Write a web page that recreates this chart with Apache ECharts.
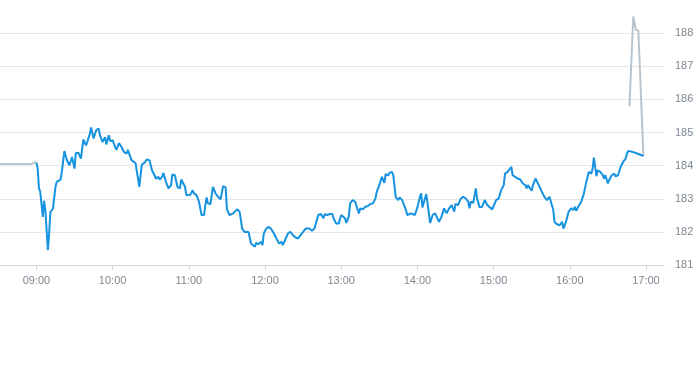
<!DOCTYPE html>
<html>
<head>
<meta charset="utf-8">
<script src="https://cdn.jsdelivr.net/npm/echarts@6/dist/echarts.min.js"></script>
<style>html,body{margin:0;padding:0;background:#fff}#c{width:693px;height:365px}</style>
</head>
<body>
<div id="c"></div>
<script>
// minutes since midnight
const preTimes = [510, 520, 530, 536, 537, 539, 540];
const preValues = [184.05, 184.05, 184.05, 184.05, 184.1, 184.1, 184.09];

const mainTimes = [540,541,542,543,545,546,547,549,550,551,553,555,556,559,560,562,564,566,568,570,571,573,575,576,577,579,580,582,583,585,587,589,590,592,594,595,597,598,600,602,603,605,607,609,611,612,
613,615,616,618,620,621,622,623,625,626,627,629,631,633,634,636,637,639,640,642,644,646,647,649,650,651,653,654,655,657,658,659,661,663,664,666,668,669,670,672,673,674,675,677,679,680,681,683,
684,685,687,689,690,692,695,696,698,700,702,704,707,709,712,713,715,717,718,719,721,723,725,727,729,731,733,734,736,738,740,742,744,746,748,750,752,755,757,759,760,762,764,766,767,769,771,773,774,776,778,780,781,783,784,786,787,789,791,793,794,795,797,799,801,803,805,807,808,810,812,814,815,817,818,820,821,823,825,826,828,829,831,832,835,836,838,840,842,843,844,846,847,848,850,852,854,855,
857,859,861,863,865,867,869,870,872,874,876,878,880,881,882,884,886,887,889,891,893,895,897,899,900,902,904,906,908,909,911,912,914,915,917,919,921,923,925,926,927,930,931,933,934,936,938,940,942,944,945,947,948,950,952,954,955,956,957,959,961,963,964,965,967,969,971,972,973,975,977,978,979,981,982,983,984,986,987,988,990,991,993,995,996,998,999,1000,1002,1004,1005,1006,1008,1012,1018];
const mainValues = [184.09,183.91,183.31,183.21,182.45,182.94,182.66,181.45,181.95,182.6,182.7,183.36,183.51,183.58,183.81,184.44,184.16,184.01,184.26,183.91,184.38,184.39,184.21,184.26,184.79,184.61,184.71,184.95,185.15,184.82,185.07,185.12,184.92,184.71,184.86,184.64,184.92,184.74,184.77,184.56,184.48,184.68,184.56,184.41,184.36,184.48,
184.36,184.16,184.16,184.08,183.61,183.36,183.38,184.04,184.08,184.06,184.19,184.16,183.86,183.71,183.61,183.66,183.58,183.66,183.78,183.51,183.31,183.41,183.73,183.71,183.66,183.36,183.31,183.58,183.64,183.36,183.11,183.14,183.11,183.26,183.16,183.11,182.91,182.71,182.51,182.51,182.81,183.04,182.86,182.84,183.36,183.41,183.16,183.06,
183.11,182.98,183.38,183.34,182.68,182.51,182.56,182.54,182.68,182.61,182.1,182.0,182.0,181.65,181.55,181.67,181.63,181.7,181.6,181.95,182.1,182.15,182.08,181.95,181.8,181.65,181.7,181.6,181.77,181.95,182.0,181.9,181.83,181.8,181.9,182.0,182.1,182.1,182.03,182.1,182.25,182.51,182.54,182.41,182.53,182.51,182.54,182.54,182.41,182.25,182.25,182.51,182.54,182.41,182.27,182.46,182.86,182.96,182.91,182.66,182.56,182.71,182.68,182.76,182.78,182.84,182.86,183.01,183.21,183.41,183.66,183.48,183.74,183.71,183.78,183.81,183.71,183.04,182.96,183.04,182.96,183.01,182.66,182.51,182.56,182.54,182.51,182.74,183.06,183.16,182.74,183.01,183.14,182.86,182.27,182.51,182.56,182.56,
182.3,182.46,182.71,182.56,182.71,182.81,182.61,182.84,182.81,182.99,183.06,183.01,182.91,182.71,182.91,182.88,183.31,183.01,182.74,182.76,182.96,182.81,182.74,182.68,182.78,182.96,183.01,183.26,183.41,183.76,183.81,183.78,183.96,183.71,183.66,183.61,183.58,183.46,183.41,183.31,183.41,183.24,183.41,183.61,183.56,183.38,183.21,183.06,182.96,183.06,183.08,182.66,182.3,182.23,182.2,182.3,182.1,182.05,182.3,182.6,182.71,182.66,182.76,182.64,182.78,182.91,183.14,183.18,183.51,183.81,183.76,183.91,184.24,183.68,183.86,183.91,183.81,183.71,183.61,183.71,183.46,183.56,183.71,183.76,183.68,183.71,183.68,183.96,184.11,184.21,184.36,184.44,184.43,184.38,184.29];

const postTimes = [1007, 1010, 1012, 1014, 1018];
const postValues = [185.79, 188.5, 188.1, 188.08, 184.29];

const xTickValues = [540, 600, 660, 720, 780, 840, 900, 960, 1020];

function zip(t, v) { return t.map((x, i) => [x, v[i]]); }
function hhmm(m) {
  const h = Math.floor(m / 60), mm = Math.round(m % 60);
  return String(h).padStart(2, '0') + ':' + String(mm).padStart(2, '0');
}

const chart = echarts.init(document.getElementById('c'), null, {renderer: 'canvas'});
chart.setOption({
  animation: false,
  grid: {left: 0, right: 29, top: 0, bottom: 100, containLabel: false, outerBoundsMode: 'none'},
  xAxis: {
    type: 'value',
    min: 511.3,
    max: 1034.2,
    splitLine: {show: false},
    axisLine: {show: true, lineStyle: {color: '#d3d7db', width: 1}},
    axisTick: {show: true, customValues: xTickValues, length: 5, lineStyle: {color: '#d3d7db'}},
    axisLabel: {
      customValues: xTickValues,
      formatter: v => hhmm(v),
      color: '#7d8893', fontSize: 11, fontFamily: 'Liberation Sans, Arial, sans-serif', margin: 10
    }
  },
  yAxis: {
    type: 'value',
    position: 'right',
    min: 181,
    max: 189,
    interval: 1,
    axisLine: {show: false},
    axisTick: {show: false},
    splitLine: {showMaxLine: false, lineStyle: {color: '#e5e8eb', width: 1}},
    axisLabel: {
      showMaxLabel: false,
      color: '#7d8893', fontSize: 11, fontFamily: 'Liberation Sans, Arial, sans-serif', margin: 11,
      verticalAlign: 'middle', padding: [3, 0, 0, 0]
    }
  },
  series: [
    {type: 'line', data: zip(preTimes, preValues), showSymbol: false, symbol: 'none',
     lineStyle: {color: '#b9c5ce', width: 2}, z: 2},
    {type: 'line', data: zip(postTimes, postValues), showSymbol: false, symbol: 'none',
     lineStyle: {color: '#b9c5ce', width: 2}, z: 2},
    {type: 'line', data: zip(mainTimes, mainValues), showSymbol: false, symbol: 'none',
     lineStyle: {color: '#1592e0', width: 2}, z: 3}
  ]
});
</script>
</body>
</html>
